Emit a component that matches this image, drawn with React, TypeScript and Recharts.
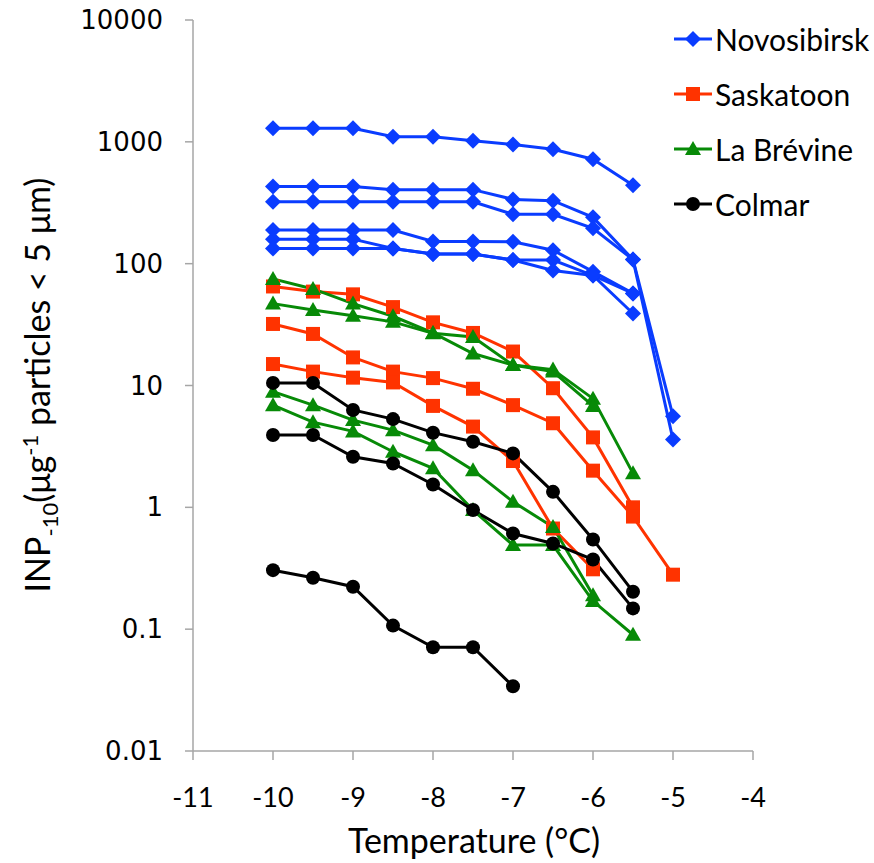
import { LineChart, Line, XAxis, YAxis } from "recharts";

// temperature steps (°C), values read left to right from -10
const temps = [-10, -9.5, -9, -8.5, -8, -7.5, -7, -6.5, -6, -5.5, -5];
const xTicks = [-11, -10, -9, -8, -7, -6, -5, -4];
const yTicks = [0.01, 0.1, 1, 10, 100, 1000, 10000];

const novosibirsk = [
  [1290, 1290, 1290, 1100, 1100, 1020, 950, 870, 720, 440],
  [430, 430, 430, 405, 405, 405, 337, 329, 240, 108, 5.6],
  [322, 322, 322, 322, 322, 322, 254, 254, 195, 108, 3.6],
  [189, 189, 189, 189, 152, 152, 151, 129, 86, 57],
  [159, 159, 159, 133, 120, 120, 107, 107, 80, 39],
  [133, 133, 133, 133, 120, 120, 107, 88, 80, 57],
];

const saskatoon = [
  [65, 59, 56, 44, 33, 27, 19, 9.5, 3.75, 1.0],
  [32, 26.5, 17, 13, 11.5, 9.4, 6.9, 4.9, 2.0, 0.84, 0.28],
  [15, 13, 11.6, 10.6, 6.8, 4.6, 2.4, 0.67, 0.31],
];

const laBrevine = [
  [75, 62, 47, 37, 27, 18.3, 14.7, 13.5, 7.8, 1.9],
  [47, 41.6, 37.4, 33.3, 26.8, 25, 14.7, 13, 6.8],
  [8.9, 6.9, 5.2, 4.3, 3.24, 2.02, 1.11, 0.69, 0.19],
  [6.9, 5.0, 4.2, 2.86, 2.09, 0.95, 0.49, 0.49, 0.17, 0.09],
];

const colmar = [
  [10.5, 10.5, 6.3, 5.3, 4.1, 3.45, 2.77, 1.34, 0.545, 0.203],
  [3.92, 3.92, 2.6, 2.29, 1.54, 0.95, 0.61, 0.505, 0.373, 0.148],
  [0.305, 0.264, 0.223, 0.107, 0.071, 0.071, 0.034],
];

const sites = [
  { name: "Novosibirsk", color: "#0a3cff", shape: "diamond", runs: novosibirsk },
  { name: "Saskatoon", color: "#ff3300", shape: "square", runs: saskatoon },
  { name: "La Brévine", color: "#078a07", shape: "triangle", runs: laBrevine },
  { name: "Colmar", color: "#000000", shape: "circle", runs: colmar },
];

const FONT = "Lato, 'Open Sans', sans-serif";
const AXIS = "#a6a6a6";

function Marker({ cx, cy, shape, color }: { cx?: number; cy?: number; shape: string; color: string }) {
  if (cx == null || cy == null) return null;
  if (shape === "diamond")
    return (
      <polygon
        points={`${cx},${cy - 8} ${cx + 8},${cy} ${cx},${cy + 8} ${cx - 8},${cy}`}
        fill={color}
      />
    );
  if (shape === "square")
    return <rect x={cx - 7} y={cy - 7} width={14} height={14} fill={color} />;
  if (shape === "triangle")
    return (
      <polygon
        points={`${cx},${cy - 8} ${cx + 8},${cy + 6} ${cx - 8},${cy + 6}`}
        fill={color}
      />
    );
  return <circle cx={cx} cy={cy} r={7} fill={color} />;
}

const YTick = ({ x, y, payload }: any) => (
  <text
    x={x - 20}
    y={y}
    dy={9}
    textAnchor="end"
    fontFamily="'DejaVu Sans', sans-serif"
    fontSize={26}
    fill="#000"
  >
    {String(payload.value)}
  </text>
);

const XTick = ({ x, y, payload }: any) => (
  <text x={x} y={y + 45} textAnchor="middle" fontFamily={FONT} fontSize={27} fill="#000">
    {payload.value}
  </text>
);

const XTitle = () => (
  <text x={474} y={853} textAnchor="middle" fontFamily={FONT} fontSize={34} fill="#000">
    Temperature (°C)
  </text>
);

const YTitle = () => (
  <text
    transform="translate(50,385) rotate(-90)"
    textAnchor="middle"
    fontFamily={FONT}
    fontSize={34}
    fill="#000"
  >
    INP
    <tspan fontSize={22} dy={8}>-10</tspan>
    <tspan dy={-8}>(μg</tspan>
    <tspan fontSize={22} dy={-12}>-1</tspan>
    <tspan dy={12}> particles &lt; 5 μm)</tspan>
  </text>
);

const LegendBox = () => (
  <div
    style={{
      position: "absolute",
      left: 672,
      top: 11,
      fontFamily: FONT,
      fontSize: 30,
      color: "#000",
    }}
  >
    {sites.map((s) => (
      <div key={s.name} style={{ display: "flex", alignItems: "center", height: 55 }}>
        <svg width={42} height={20}>
          <line x1={2} y1={10} x2={40} y2={10} stroke={s.color} strokeWidth={3} />
          <Marker cx={21} cy={10} shape={s.shape} color={s.color} />
        </svg>
        <span style={{ marginLeft: 1 }}>{s.name}</span>
      </div>
    ))}
  </div>
);

export default function App() {
  return (
    <div style={{ position: "absolute", left: 0, top: 0, width: 874, height: 863, background: "#fff" }}>
      <LineChart width={874} height={863} margin={{ top: 20, right: 121, bottom: 52, left: 0 }}>
        <XAxis
          type="number"
          dataKey="x"
          domain={[-11, -4]}
          ticks={xTicks}
          allowDataOverflow
          stroke={AXIS}
          strokeWidth={1.5}
          tickSize={9}
          tick={<XTick />}
          height={60}
          label={<XTitle />}
        />
        <YAxis
          type="number"
          dataKey="y"
          scale="log"
          domain={[0.01, 10000]}
          ticks={yTicks}
          allowDataOverflow
          stroke={AXIS}
          strokeWidth={1.5}
          tickSize={8}
          tick={<YTick />}
          width={193}
          label={<YTitle />}
        />
        {sites.flatMap((s) =>
          s.runs.map((vals, ri) => (
            <Line
              key={`${s.name}-${ri}`}
              data={vals.map((v, i) => ({ x: temps[i], y: v }))}
              dataKey="y"
              name={s.name}
              stroke={s.color}
              strokeWidth={3}
              isAnimationActive={false}
              legendType="none"
              dot={(p: any) => (
                <g key={`${s.name}-${ri}-${p.index}`}>
                  <Marker cx={p.cx} cy={p.cy} shape={s.shape} color={s.color} />
                </g>
              )}
              activeDot={false}
            />
          ))
        )}
      </LineChart>
      <LegendBox />
    </div>
  );
}
